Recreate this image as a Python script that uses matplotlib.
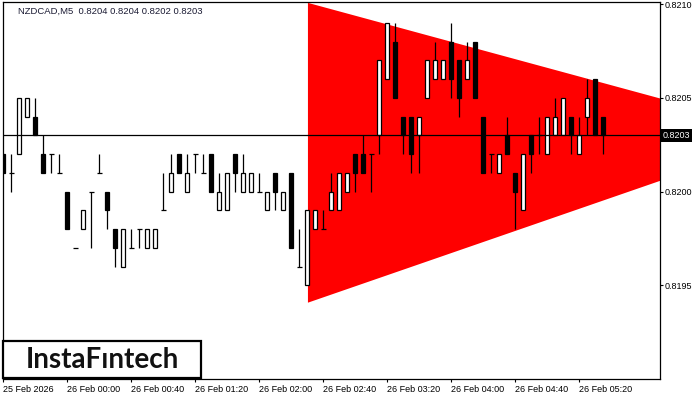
import matplotlib
matplotlib.use("Agg")
import matplotlib.pyplot as plt
import matplotlib.transforms as mtransforms
from matplotlib.patches import Rectangle

# NZDCAD M5 candles, 25 Feb 23:20 onwards
opens = [0.8202, 0.8201, 0.8202, 0.8204, 0.8204, 0.8202, 0.8202, 0.8201,
         0.8200, 0.8197, 0.8198, 0.8200, 0.8201, 0.8200, 0.8198, 0.8196,
         0.8197, 0.8198, 0.8197, 0.8197, 0.8199, 0.8200, 0.8202, 0.8200,
         0.8202, 0.8201, 0.8202, 0.8199, 0.8199, 0.8202, 0.8200, 0.8200,
         0.8200, 0.8199, 0.8201, 0.8199, 0.8201, 0.8196, 0.8195, 0.8198,
         0.8198, 0.8199, 0.8199, 0.8200, 0.8202, 0.8202, 0.8202, 0.8203,
         0.8206, 0.8208, 0.8204, 0.8204, 0.8203, 0.8205, 0.8206, 0.8206,
         0.8208, 0.8207, 0.8206, 0.8208, 0.8204, 0.8202, 0.8201, 0.8203,
         0.8201, 0.8199, 0.8203, 0.8203, 0.8202, 0.8203, 0.8203, 0.8204,
         0.8202, 0.8204, 0.8206, 0.8204]
highs = [0.8202, 0.8202, 0.8205, 0.8205, 0.8205, 0.8203, 0.8202, 0.8202,
         0.8200, 0.8197, 0.8199, 0.8200, 0.8202, 0.8200, 0.8198, 0.8198,
         0.8198, 0.8198, 0.8198, 0.8198, 0.8201, 0.8202, 0.8202, 0.8202,
         0.8202, 0.8202, 0.8202, 0.8201, 0.8201, 0.8202, 0.8202, 0.8201,
         0.8201, 0.8200, 0.8201, 0.8200, 0.8201, 0.8198, 0.8199, 0.8199,
         0.8199, 0.8201, 0.8201, 0.8201, 0.8202, 0.8203, 0.8202, 0.8207,
         0.8209, 0.8209, 0.8204, 0.8204, 0.8204, 0.8207, 0.8208, 0.8207,
         0.8209, 0.8207, 0.8208, 0.8208, 0.8204, 0.8202, 0.8202, 0.8204,
         0.8201, 0.8202, 0.8203, 0.8204, 0.8204, 0.8205, 0.8205, 0.8204,
         0.8204, 0.8206, 0.8206, 0.8204]
lows = [0.8201, 0.8200, 0.8202, 0.8204, 0.8203, 0.8201, 0.8201, 0.8201,
        0.8198, 0.8197, 0.8198, 0.8197, 0.8201, 0.8198, 0.8196, 0.8196,
        0.8197, 0.8197, 0.8197, 0.8197, 0.8199, 0.8200, 0.8201, 0.8200,
        0.8201, 0.8201, 0.8200, 0.8199, 0.8199, 0.8200, 0.8200, 0.8200,
        0.8200, 0.8199, 0.8199, 0.8199, 0.8197, 0.8196, 0.8195, 0.8198,
        0.8198, 0.8199, 0.8199, 0.8200, 0.8200, 0.8201, 0.8200, 0.8202,
        0.8206, 0.8205, 0.8202, 0.8201, 0.8201, 0.8205, 0.8206, 0.8206,
        0.8205, 0.8204, 0.8206, 0.8205, 0.8201, 0.8201, 0.8201, 0.8202,
        0.8198, 0.8199, 0.8201, 0.8202, 0.8202, 0.8203, 0.8203, 0.8202,
        0.8202, 0.8203, 0.8203, 0.8202]
closes = [0.8201, 0.8201, 0.8205, 0.8205, 0.8203, 0.8201, 0.8202, 0.8201,
          0.8198, 0.8197, 0.8199, 0.8200, 0.8201, 0.8199, 0.8197, 0.8198,
          0.8197, 0.8198, 0.8198, 0.8198, 0.8199, 0.8201, 0.8201, 0.8201,
          0.8202, 0.8201, 0.8200, 0.8200, 0.8201, 0.8201, 0.8201, 0.8201,
          0.8200, 0.8200, 0.8200, 0.8200, 0.8197, 0.8196, 0.8199, 0.8199,
          0.8198, 0.8200, 0.8201, 0.8201, 0.8201, 0.8201, 0.8202, 0.8207,
          0.8209, 0.8205, 0.8203, 0.8202, 0.8204, 0.8207, 0.8207, 0.8207,
          0.8206, 0.8205, 0.8207, 0.8205, 0.8201, 0.8202, 0.8202, 0.8202,
          0.8200, 0.8202, 0.8202, 0.8203, 0.8204, 0.8204, 0.8205, 0.8203,
          0.8203, 0.8205, 0.8203, 0.8203]

# triangle pattern (bar index, price)
tri_x = [38, 82]
tri_top = [0.82101, 0.82050]
tri_bot = [0.81941, 0.82006]

bid = 0.8203
price_ticks = [0.8195, 0.8200, 0.8205, 0.8210]
time_ticks = [0, 8, 16, 24, 32, 40, 48, 56, 64, 72]
time_labels = ['25 Feb 2026', '26 Feb 00:00', '26 Feb 00:40', '26 Feb 01:20',
               '26 Feb 02:00', '26 Feb 02:40', '26 Feb 03:20', '26 Feb 04:00',
               '26 Feb 04:40', '26 Feb 05:20']

plt.rcParams['font.family'] = ['Liberation Sans', 'DejaVu Sans']

fig = plt.figure(figsize=(7, 4), dpi=100)
ax = fig.add_axes([3/700, 21/400, 656.5/700, 377/400])
ax.set_xlim(-0.05, 82.0)
ax.set_ylim(0.8190, 0.821012)

# pattern
ax.fill_between(tri_x, tri_bot, tri_top, color='#ff0000', lw=0, zorder=1)

# candles
bw = 0.5
for i in range(len(opens)):
    o, h, l, c = opens[i], highs[i], lows[i], closes[i]
    ax.vlines(i, l, h, color='black', lw=0.9, zorder=3)
    if o == c:
        ax.hlines(o, i - bw/2 - 0.05, i + bw/2 + 0.05, color='black', lw=0.9, zorder=4)
    else:
        fc = 'white' if c > o else 'black'
        ax.add_patch(Rectangle((i - bw/2, min(o, c)), bw, abs(c - o),
                               facecolor=fc, edgecolor='black', lw=0.9, zorder=4))

ax.axhline(bid, color='black', lw=0.9, zorder=5)

# axes styling
for s in ax.spines.values():
    s.set_linewidth(0.9)
    s.set_color('black')
ax.yaxis.tick_right()
ax.set_yticks(price_ticks)
ax.set_yticklabels(['%.4f' % p for p in price_ticks])
ax.set_xticks(time_ticks)
ax.set_xticklabels(time_labels)
for lab in ax.get_xticklabels():
    lab.set_ha('left')
ax.tick_params(axis='both', direction='out', length=2.5, width=0.8,
               labelsize=6.5, pad=1.5, colors='black')

trans = mtransforms.blended_transform_factory(ax.transAxes, ax.transData)
ax.text(1.004, bid, '%.4f' % bid, transform=trans, ha='left', va='center',
        fontsize=6.5, color='white', zorder=6,
        bbox=dict(boxstyle='square,pad=0.25', facecolor='black', edgecolor='none'))

fig.text(18/700, 1 - 11/400, 'NZDCAD,M5  0.8204 0.8204 0.8202 0.8203',
         fontsize=6.8, color='#1a1a33', va='center', ha='left')

# logo
ax.add_patch(Rectangle((0.0, 0.003), 0.3016, 0.098, transform=ax.transAxes,
                       facecolor='white', edgecolor='black', lw=1.6, zorder=7,
                       clip_on=False))
ax.text(0.151, 0.05, 'InstaF\u0131ntech', transform=ax.transAxes,
        ha='center', va='center', fontsize=20, family=['Lato', 'DejaVu Sans'],
        fontweight='bold', color='#111111', zorder=8)

fig.savefig('out.png', dpi=100)
